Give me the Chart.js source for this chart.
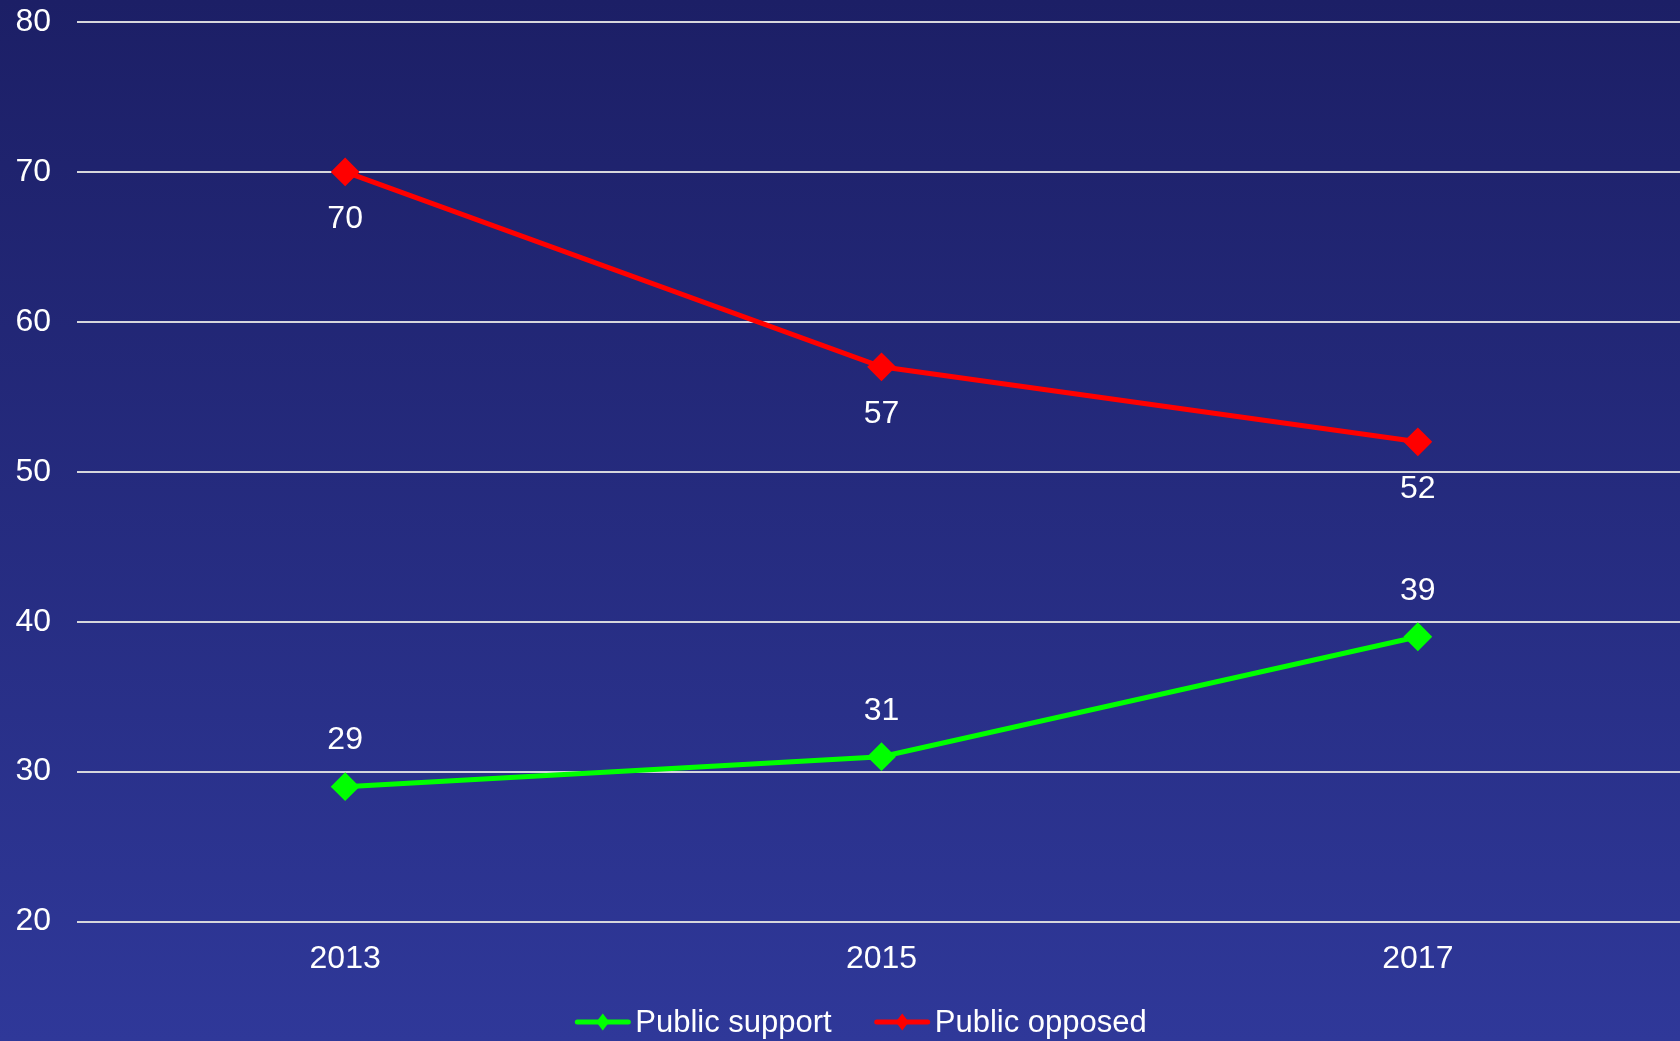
<!DOCTYPE html>
<html>
<head>
<meta charset="utf-8">
<script src="https://cdn.jsdelivr.net/npm/chart.js@4"></script>
<style>
  html, body { margin: 0; padding: 0; }
  #wrap { width: 1680px; height: 1041px; position: relative; }
</style>
</head>
<body>
<div id="wrap"><canvas id="trendChart"></canvas></div>
<script>
const years = ['2013', '2015', '2017'];
const supportValues = [29, 31, 39];
const opposedValues = [70, 57, 52];
const yTicks = [20, 30, 40, 50, 60, 70, 80];

const FONT = "'Liberation Sans', Arial, sans-serif";

// gradient background behind everything
const bgPlugin = {
  id: 'bg',
  beforeDraw(chart) {
    const c = chart.ctx;
    const g = c.createLinearGradient(0, 0, 0, chart.height);
    g.addColorStop(0, '#1c1f66');
    g.addColorStop(1, '#2f3899');
    c.save();
    c.fillStyle = g;
    c.fillRect(0, 0, chart.width, chart.height);
    c.restore();
  }
};

// the category bands run a little past the right edge in the original
const stretchX = {
  id: 'stretchX',
  afterLayout(chart) {
    const x = chart.scales.x;
    x.right += 6;
    x.width += 6;
    x.configure();
  }
};

// value labels: opposed below the point, support above
const valueLabels = {
  id: 'valueLabels',
  afterDatasetsDraw(chart) {
    const c = chart.ctx;
    c.save();
    c.font = '32px ' + FONT;
    c.fillStyle = '#ffffff';
    c.textAlign = 'center';
    c.textBaseline = 'middle';
    chart.data.datasets.forEach((ds, i) => {
      const meta = chart.getDatasetMeta(i);
      const dy = ds.labelBelow ? 47 : -46;
      meta.data.forEach((pt, j) => {
        c.fillText(String(ds.data[j]), pt.x, pt.y + dy);
      });
    });
    c.restore();
  }
};

// line + diamond legend at the bottom
const lineLegend = {
  id: 'lineLegend',
  afterDraw(chart) {
    const c = chart.ctx;
    c.save();
    c.font = '31px ' + FONT;
    c.textBaseline = 'middle';
    const lineW = 55, gap = 5, itemGap = 43;
    const items = chart.data.datasets.map(ds => ({ text: ds.label, color: ds.borderColor, w: c.measureText(ds.label).width }));
    let total = 0;
    items.forEach((it, i) => { total += lineW + gap + it.w + (i ? itemGap : 0); });
    let x = chart.width / 2 - total / 2 + 21;
    const y = 1022;
    items.forEach(it => {
      c.strokeStyle = it.color;
      c.lineWidth = 5;
      c.lineCap = 'round';
      c.beginPath();
      c.moveTo(x + 2, y);
      c.lineTo(x + lineW - 2, y);
      c.stroke();
      const cx = x + lineW / 2;
      c.fillStyle = it.color;
      c.beginPath();
      c.moveTo(cx, y - 8.5);
      c.lineTo(cx + 6.5, y);
      c.lineTo(cx, y + 8.5);
      c.lineTo(cx - 6.5, y);
      c.closePath();
      c.fill();
      c.fillStyle = '#ffffff';
      c.fillText(it.text, x + lineW + gap, y + 1);
      x += lineW + gap + it.w + itemGap;
    });
    c.restore();
  }
};

new Chart(document.getElementById('trendChart'), {
  type: 'line',
  data: {
    labels: years,
    datasets: [{
      label: 'Public support',
      data: supportValues,
      borderColor: '#00ff00',
      backgroundColor: '#00ff00',
      borderWidth: 5,
      pointStyle: 'rectRot',
      pointRadius: 13,
      pointBorderWidth: 2,
      tension: 0,
      labelBelow: false
    }, {
      label: 'Public opposed',
      data: opposedValues,
      borderColor: '#ff0000',
      backgroundColor: '#ff0000',
      borderWidth: 5,
      pointStyle: 'rectRot',
      pointRadius: 13,
      pointBorderWidth: 2,
      tension: 0,
      labelBelow: true
    }]
  },
  options: {
    responsive: true,
    maintainAspectRatio: false,
    animation: false,
    layout: { autoPadding: false, padding: { top: 22, bottom: 45, left: 0, right: 0 } },
    plugins: {
      legend: { display: false },
      tooltip: { enabled: false }
    },
    scales: {
      x: {
        offset: true,
        afterFit(scale) { scale.paddingLeft = 0; scale.paddingRight = 0; },
        grid: { display: false, drawTicks: false },
        border: { display: false },
        ticks: { color: '#ffffff', font: { size: 32, family: FONT }, padding: 18 }
      },
      y: {
        min: yTicks[0],
        max: yTicks[yTicks.length - 1],
        afterBuildTicks(scale) { scale.ticks = yTicks.map(v => ({ value: v })); },
        afterFit(scale) {
          scale.width = 77;
          scale.paddingTop = 0;
          scale.paddingBottom = 0;
        },
        grid: { color: '#d6d6dc', lineWidth: 2, drawTicks: false },
        border: { display: false },
        ticks: { color: '#ffffff', font: { size: 32, family: FONT }, padding: 26 }
      }
    }
  },
  plugins: [bgPlugin, stretchX, valueLabels, lineLegend]
});
</script>
</body>
</html>
